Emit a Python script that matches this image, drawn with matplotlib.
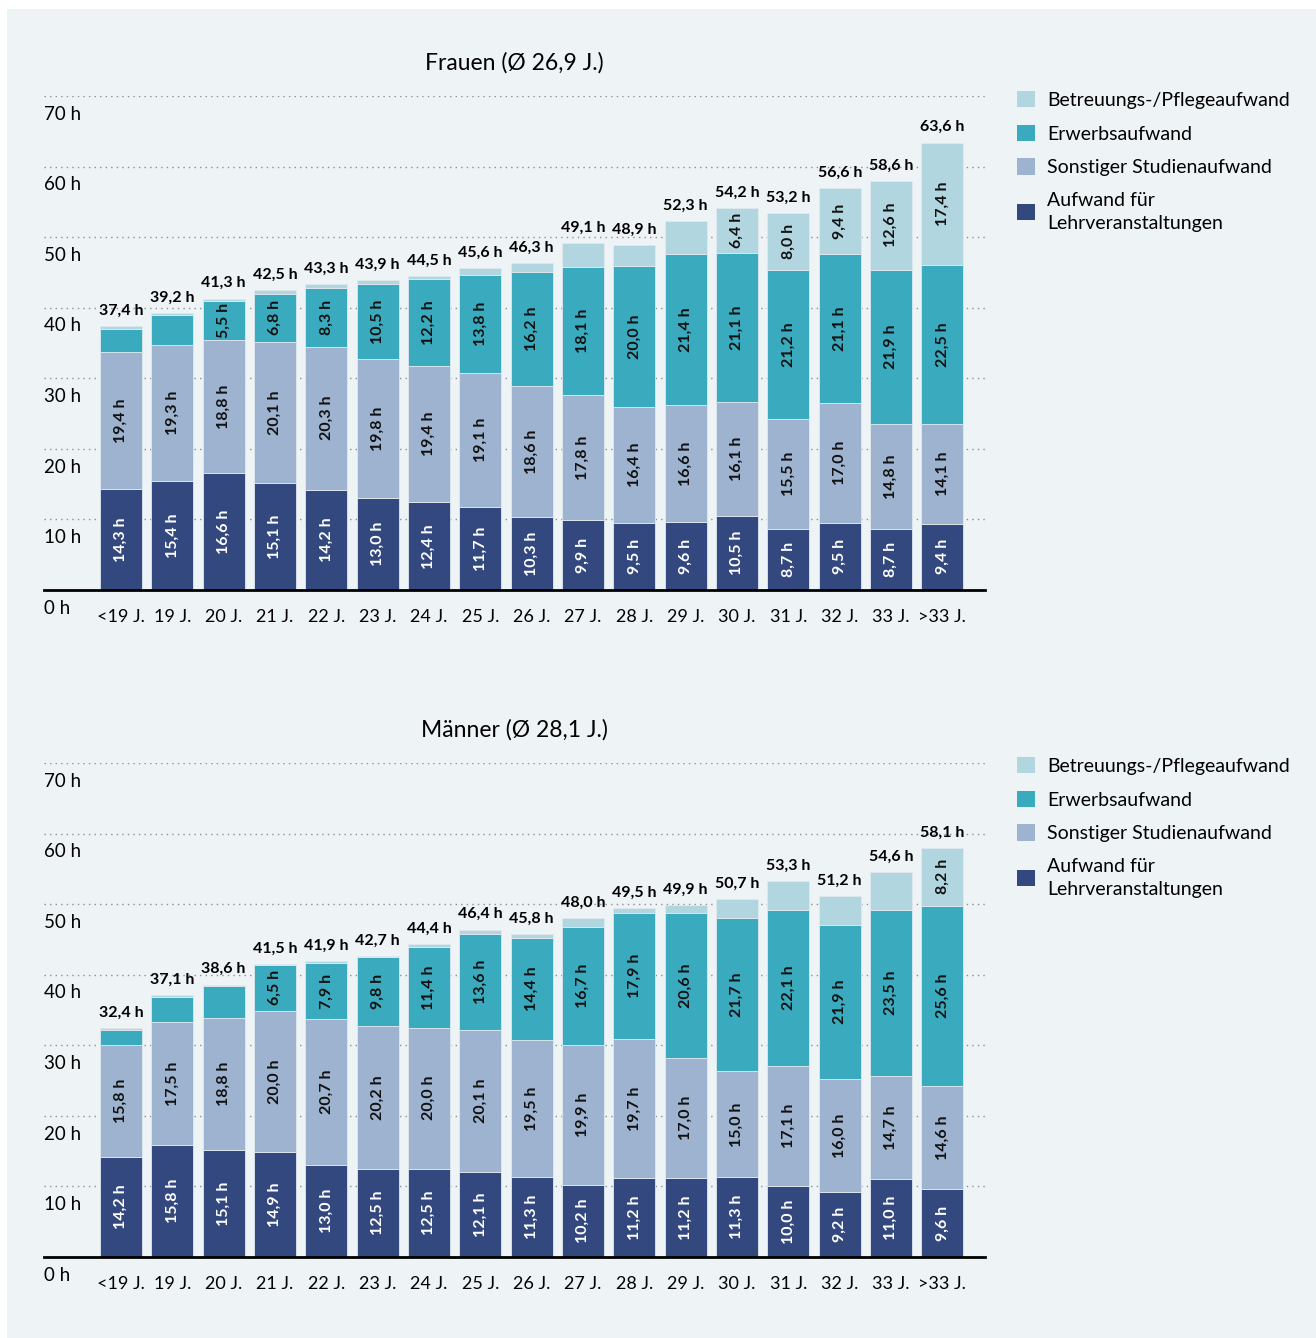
import matplotlib.pyplot as plt
from matplotlib.patches import Patch, Rectangle

plt.rcParams["font.family"] = ["Lato", "DejaVu Sans"]

# ---------------------------------------------------------------------------
# Data
# ---------------------------------------------------------------------------
ages = ["<19 J.", "19 J.", "20 J.", "21 J.", "22 J.", "23 J.", "24 J.", "25 J.",
        "26 J.", "27 J.", "28 J.", "29 J.", "30 J.", "31 J.", "32 J.", "33 J.", ">33 J."]

f_lehr = [14.3, 15.4, 16.6, 15.1, 14.2, 13.0, 12.4, 11.7, 10.3, 9.9, 9.5, 9.6, 10.5, 8.7, 9.5, 8.7, 9.4]
f_sonst = [19.4, 19.3, 18.8, 20.1, 20.3, 19.8, 19.4, 19.1, 18.6, 17.8, 16.4, 16.6, 16.1, 15.5, 17.0, 14.8, 14.1]
f_erwerb = [3.3, 4.2, 5.5, 6.8, 8.3, 10.5, 12.2, 13.8, 16.2, 18.1, 20.0, 21.4, 21.1, 21.2, 21.1, 21.9, 22.5]
f_betr = [0.4, 0.3, 0.4, 0.5, 0.5, 0.6, 0.5, 1.0, 1.2, 3.3, 3.0, 4.7, 6.4, 8.0, 9.4, 12.6, 17.4]
f_total = [37.4, 39.2, 41.3, 42.5, 43.3, 43.9, 44.5, 45.6, 46.3, 49.1, 48.9, 52.3, 54.2, 53.2, 56.6, 58.6, 63.6]

m_lehr = [14.2, 15.8, 15.1, 14.9, 13.0, 12.5, 12.5, 12.1, 11.3, 10.2, 11.2, 11.2, 11.3, 10.0, 9.2, 11.0, 9.6]
m_sonst = [15.8, 17.5, 18.8, 20.0, 20.7, 20.2, 20.0, 20.1, 19.5, 19.9, 19.7, 17.0, 15.0, 17.1, 16.0, 14.7, 14.6]
m_erwerb = [2.1, 3.6, 4.5, 6.5, 7.9, 9.8, 11.4, 13.6, 14.4, 16.7, 17.9, 20.6, 21.7, 22.1, 21.9, 23.5, 25.6]
m_betr = [0.3, 0.2, 0.2, 0.1, 0.3, 0.2, 0.5, 0.6, 0.6, 1.2, 0.7, 1.1, 2.7, 4.1, 4.1, 5.4, 8.2]
m_total = [32.4, 37.1, 38.6, 41.5, 41.9, 42.7, 44.4, 46.4, 45.8, 48.0, 49.5, 49.9, 50.7, 53.3, 51.2, 54.6, 58.1]

series_names = ["Aufwand für\nLehrveranstaltungen", "Sonstiger Studienaufwand",
                "Erwerbsaufwand", "Betreuungs-/Pflegeaufwand"]

# ---------------------------------------------------------------------------
# Style
# ---------------------------------------------------------------------------
C_LEHR = "#33487f"
C_SONST = "#9db3cf"
C_ERWERB = "#3aabbe"
C_BETR = "#b1d6e0"
BG = "#eef3f6"
colors = [C_LEHR, C_SONST, C_ERWERB, C_BETR]
text_colors = ["white", "#111111", "#111111", "#111111"]
MIN_LABEL = 5.5


def fmt(v):
    return f"{v:.1f}".replace(".", ",") + " h"


fig = plt.figure(figsize=(13.16, 13.38), dpi=100, facecolor="white")
fig.patches.append(Rectangle((7 / 1316, 0), 1, 1 - 9 / 1338, transform=fig.transFigure,
                             facecolor=BG, edgecolor="none", zorder=-10))

W, H = 1316, 1338


def draw_panel(bottom_px, title, title_px, legend_px, segs, totals):
    ax = fig.add_axes([44 / W, 1 - bottom_px / H, (985 - 44) / W, 494 / H])
    ax.set_facecolor("none")
    x = list(range(len(ages)))
    base = [0.0] * len(ages)
    for vals, col, tcol in zip(segs, colors, text_colors):
        ax.bar(x, vals, bottom=base, width=0.82, color=col, edgecolor="#dfe9ef",
               linewidth=0.6, zorder=3)
        for i, v in enumerate(vals):
            if v >= MIN_LABEL:
                ax.text(i, base[i] + v / 2, fmt(v), rotation=90, ha="center", va="center",
                        color=tcol, fontsize=11.5, fontweight="bold", zorder=4)
        base = [b + v for b, v in zip(base, vals)]
    for i, t in enumerate(totals):
        ax.annotate(fmt(t), (i, base[i]), xytext=(0, 6), textcoords="offset points",
                    ha="center", va="bottom", fontsize=11.5, fontweight="bold", zorder=4)

    for v in range(10, 80, 10):
        ax.axhline(v, color="#8a8f94", linestyle=(0, (1, 3)), linewidth=1.0, zorder=1)
    for v in range(0, 80, 10):
        ax.annotate(f"{v} h", (0, v), xycoords=("axes fraction", "data"), xytext=(0, -7),
                    textcoords="offset points", ha="left", va="top", fontsize=13.5)

    ax.set_xlim(-1.5, 16.83)
    ax.set_ylim(0, 70)
    ax.set_yticks([])
    ax.set_xticks(x, ages)
    ax.tick_params(axis="x", length=0, pad=14, labelsize=13)
    for s in ["top", "left", "right"]:
        ax.spines[s].set_visible(False)
    ax.spines["bottom"].set_linewidth(2)
    ax.spines["bottom"].set_color("black")
    ax.spines["bottom"].set_zorder(5)

    fig.text(514 / W, 1 - title_px / H, title, ha="center", va="center", fontsize=16.5)

    handles = [Patch(facecolor=c, edgecolor="none") for c in colors[::-1]]
    leg = ax.legend(handles, series_names[::-1], loc="upper left",
                    bbox_to_anchor=(1017 / W, 1 - legend_px / H), bbox_transform=fig.transFigure,
                    frameon=False, fontsize=14, handlelength=0.9, handleheight=0.9,
                    handletextpad=0.65, labelspacing=0.82, borderaxespad=0, borderpad=0)
    for t in leg.get_texts():
        t.set_linespacing(1.4)
    return ax


draw_panel(590, "Frauen (Ø 26,9 J.)", 63, 91,
           [f_lehr, f_sonst, f_erwerb, f_betr], f_total)
draw_panel(1257, "Männer (Ø 28,1 J.)", 730, 757,
           [m_lehr, m_sonst, m_erwerb, m_betr], m_total)

fig.savefig("out.png", dpi=100, facecolor="white")
